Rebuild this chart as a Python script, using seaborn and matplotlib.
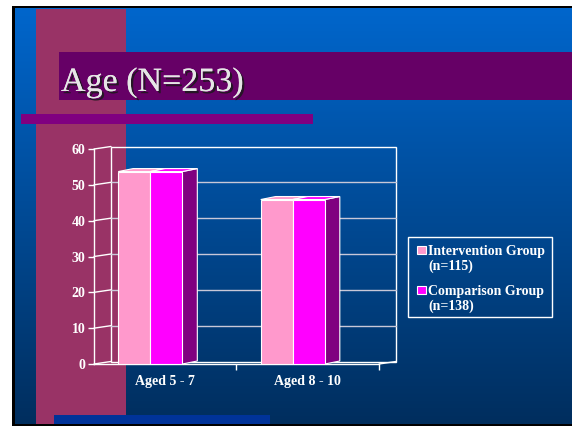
import numpy as np
import pandas as pd
import matplotlib
matplotlib.use("Agg")
import matplotlib.pyplot as plt
import matplotlib.patheffects as pe
from matplotlib.patches import Rectangle, Polygon
import seaborn as sns

# ---- data ----
title = "Age (N=253)"
categories = ["Aged 5 - 7", "Aged 8 - 10"]
groups = ["Intervention Group\n(n=115)", "Comparison Group\n(n=138)"]
intervention = [53.7, 45.9]
comparison = [53.7, 45.9]
yticks = [0, 10, 20, 30, 40, 50, 60]

df = pd.DataFrame({
    "age": categories * 2,
    "pct": intervention + comparison,
    "group": [groups[0]] * len(categories) + [groups[1]] * len(categories),
})

PINK = "#FF99CC"
MAGENTA = "#FF00FF"

sns.set_theme(style="white")
plt.rcParams["font.family"] = ["Liberation Serif", "DejaVu Serif"]

W, H = 572, 426
fig = plt.figure(figsize=(W / 100, H / 100), dpi=100)
fig.patch.set_facecolor("white")

# ---- slide background (pixel coordinates, y down) ----
bg = fig.add_axes([0, 0, 1, 1], zorder=0)
bg.axis("off")
bg.add_patch(Rectangle((12, 6), W - 12, 420, facecolor="black", edgecolor="none", zorder=0.1))
top_c = np.array([0, 102, 204]) / 255
bot_c = np.array([0, 46, 94]) / 255
t = np.linspace(0, 1, 256)[:, None]
grad = (top_c[None, :] * (1 - t) + bot_c[None, :] * t)[:, None, :]
bg.imshow(grad, extent=(15, W, 424, 8.5), aspect="auto", interpolation="bilinear", zorder=0.5)
bg.set_xlim(0, W)
bg.set_ylim(H, 0)
bg.add_patch(Rectangle((36, 8.5), 90, 415.5, facecolor="#993366", edgecolor="none", zorder=1))
bg.add_patch(Rectangle((59, 52), W - 59, 48, facecolor="#660066", edgecolor="none", zorder=1))
bg.add_patch(Rectangle((21, 114), 292, 10, facecolor="#800080", edgecolor="none", zorder=1))
bg.add_patch(Rectangle((54, 415), 216, 9, facecolor="#003399", edgecolor="none", zorder=1))

bg.text(61, 91, title, fontsize=24.5, color="#E6E6E6", va="baseline", ha="left", zorder=3,
        path_effects=[pe.withSimplePatchShadow(offset=(1.6, -1.6), shadow_rgbFace="#1a1a1a", alpha=0.85),
                      pe.Normal()])

# ---- legend (drawn in slide pixel coords) ----
bg.add_patch(Rectangle((408, 237), 144, 80, fill=False, edgecolor="white", lw=1, zorder=3))
for i, (lab, col) in enumerate(zip(groups, [PINK, MAGENTA])):
    y0 = 246 + i * 40
    bg.add_patch(Rectangle((417, y0), 9, 8, facecolor=col, edgecolor="white", lw=0.8, zorder=3))
    lines = lab.split("\n")
    for j, ln in enumerate(lines):
        bg.text(428.5, y0 + 8.5 + j * 15.5, ln, fontsize=10, fontweight="bold", color="white",
                va="baseline", ha="left", zorder=3)

# ---- chart (front plane) ----
x0, x1, yb, yt = 94, 379, 364, 149
ax = fig.add_axes([x0 / W, 1 - yb / H, (x1 - x0) / W, (yb - yt) / H], zorder=2)
ax.patch.set_alpha(0)

sns.barplot(data=df, x="age", y="pct", hue="group", order=categories, hue_order=groups,
            palette=[PINK, MAGENTA], saturation=1, width=0.45, errorbar=None,
            edgecolor="white", linewidth=0.8, legend=False, ax=ax)

ax.set_xlim(-0.5, len(categories) - 0.5)
ax.set_ylim(yticks[0], yticks[-1])

px_x = (len(categories)) / (x1 - x0)          # data units per pixel (x)
px_y = (yticks[-1] - yticks[0]) / (yb - yt)    # data units per pixel (y)

shift = 15 * px_x
bdx, bdy = 15 * px_x, 3 * px_y    # bar depth
wdx, wdy = 17 * px_x, 2.5 * px_y  # wall depth

for p in ax.patches:
    p.set_x(p.get_x() - shift)
    p.set_zorder(3)
    xl, w, h = p.get_x(), p.get_width(), p.get_height()
    xr = xl + w
    fc = np.array(p.get_facecolor()[:3])
    side = Polygon([(xr, 0), (xr + bdx, bdy), (xr + bdx, h + bdy), (xr, h)], closed=True,
                   facecolor=fc * 0.5, edgecolor="white", lw=0.8, zorder=2)
    top = Polygon([(xl, h), (xr, h), (xr + bdx, h + bdy), (xl + bdx, h + bdy)], closed=True,
                  facecolor=fc, edgecolor="white", lw=0.8, zorder=2)
    ax.add_patch(side)
    ax.add_patch(top)

# back wall, gridlines and connectors
xa, xb = -0.5, len(categories) - 0.5
ax.add_patch(Rectangle((xa + wdx, yticks[0] + wdy), xb - xa, yticks[-1] - yticks[0], fill=False,
                       edgecolor="white", lw=1, clip_on=False, zorder=1))
for v in yticks[1:-1]:
    ax.plot([xa + wdx, xb + wdx], [v + wdy, v + wdy], color="#C8C8D8", lw=1, clip_on=False, zorder=1)
for v in yticks:
    ax.plot([xa, xa + wdx], [v, v + wdy], color="white", lw=1, clip_on=False, zorder=1)
ax.plot([xb, xb + wdx], [0, wdy], color="white", lw=1, clip_on=False, zorder=1)

for s in ["top", "right"]:
    ax.spines[s].set_visible(False)
for s in ["left", "bottom"]:
    ax.spines[s].set_color("white")
    ax.spines[s].set_linewidth(1)

ax.set_yticks(yticks)
ax.set_yticklabels([str(v) for v in yticks])
ax.tick_params(axis="y", colors="white", length=4, width=1, direction="out", pad=2, labelsize=10,
               left=True)
ax.set_xticks(range(len(categories)))
ax.set_xticklabels(categories)
ax.set_xticks([i + 0.5 for i in range(len(categories))], minor=True)
ax.tick_params(axis="x", which="major", length=0, pad=8, labelsize=10, colors="white")
ax.tick_params(axis="x", which="minor", length=4, width=1, color="white", direction="out", bottom=True)
for lbl in ax.get_xticklabels() + ax.get_yticklabels():
    lbl.set_fontweight("bold")
    lbl.set_color("white")
ax.set_xlabel("")
ax.set_ylabel("")
ax.grid(False)

fig.savefig("out.png", dpi=100, facecolor=fig.get_facecolor())
